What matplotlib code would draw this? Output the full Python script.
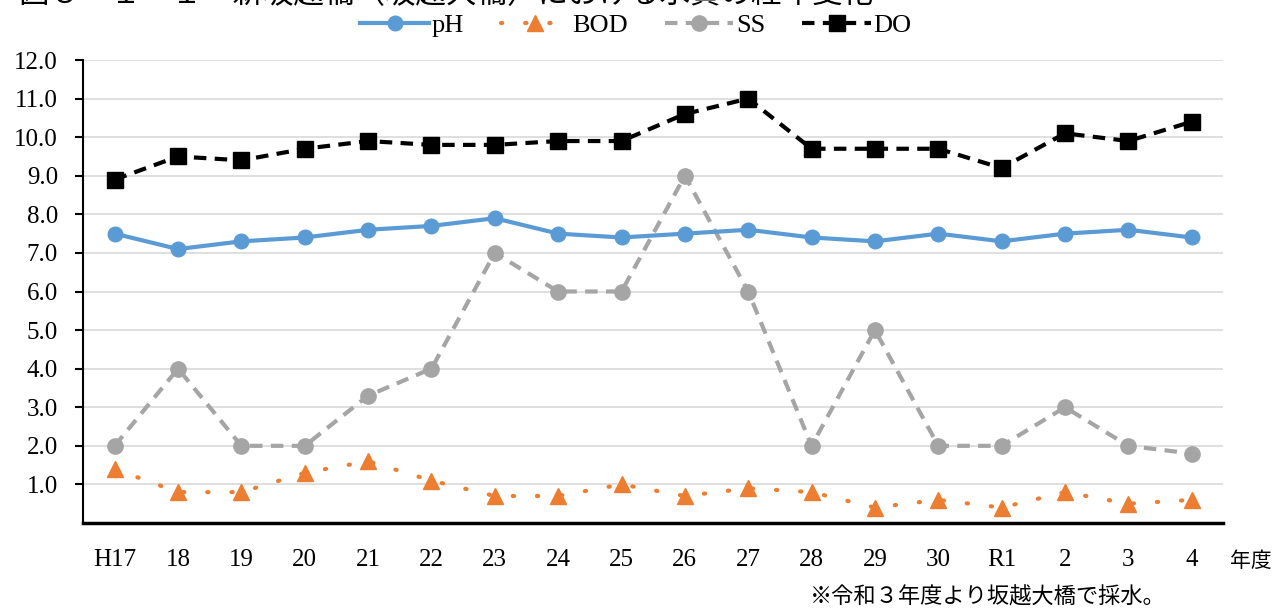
import numpy as np
import matplotlib
matplotlib.use("Agg")
import matplotlib.pyplot as plt

plt.rcParams['font.family'] = ['Liberation Serif', 'Noto Sans CJK JP']

# 年度と各項目の値
years = ["H17", "18", "19", "20", "21", "22", "23", "24", "25", "26",
         "27", "28", "29", "30", "R1", "2", "3", "4"]
ph = [7.5, 7.1, 7.3, 7.4, 7.6, 7.7, 7.9, 7.5, 7.4, 7.5,
      7.6, 7.4, 7.3, 7.5, 7.3, 7.5, 7.6, 7.4]
bod = [1.4, 0.8, 0.8, 1.3, 1.6, 1.1, 0.7, 0.7, 1.0, 0.7,
       0.9, 0.8, 0.4, 0.6, 0.4, 0.8, 0.5, 0.6]
ss = [2.0, 4.0, 2.0, 2.0, 3.3, 4.0, 7.0, 6.0, 6.0, 9.0,
      6.0, 2.0, 5.0, 2.0, 2.0, 3.0, 2.0, 1.8]
do = [8.9, 9.5, 9.4, 9.7, 9.9, 9.8, 9.8, 9.9, 9.9, 10.6,
      11.0, 9.7, 9.7, 9.7, 9.2, 10.1, 9.9, 10.4]

x = np.arange(len(years))

fig = plt.figure(figsize=(12.77, 6.08), dpi=100)
ax = fig.add_axes([0.0650, 0.1398, 0.8930, 0.7615])

ax.plot(x, ph, '-', color='#5B9BD5', linewidth=3, marker='o',
        markersize=10.5, label='pH', zorder=4)
ax.plot(x, bod, color='#ED7D31', linestyle=(0, (0.3, 5.5)), linewidth=3,
        dash_capstyle='round', marker='^', markersize=12, label='BOD', zorder=3)
ax.plot(x, ss, color='#A5A5A5', linestyle=(0, (3, 2)), linewidth=3,
        marker='o', markersize=11, label='SS', zorder=3)
ax.plot(x, do, color='black', linestyle=(0, (3, 2)), linewidth=3,
        marker='s', markersize=12, label='DO', zorder=5)

ax.set_xlim(-0.5, len(years) - 0.5)
ax.set_ylim(0, 12)
ax.set_yticks(np.arange(1, 13))
ax.set_yticklabels([f"{v:.1f}" for v in np.arange(1, 13)], fontsize=18)
ax.set_xticks(x)
ax.set_xticklabels(years, fontsize=18)
ax.tick_params(axis='x', length=0, pad=19)
ax.tick_params(axis='y', length=6, width=1.5, pad=12, direction='out')

ax.grid(axis='y', color='#D9D9D9', linewidth=1.2)
ax.set_axisbelow(True)
for s in ['top', 'right']:
    ax.spines[s].set_visible(False)
ax.spines['left'].set_linewidth(1.5)
ax.spines['bottom'].set_linewidth(2.5)

leg = ax.legend(loc='center', bbox_to_anchor=(0.485, 1.075), ncol=4,
                frameon=False, fontsize=19, handlelength=2.6,
                columnspacing=1.4, handletextpad=0.1)

fig.text(0.963, 0.075, "年度", fontsize=15, ha='left', va='center')
fig.text(0.634, 0.016, "※令和３年度より坂越大橋で採水。", fontsize=16,
         ha='left', va='center')
# タイトルは上端で切れている
fig.text(0.015, 1.008, "図８－１－１　新坂越橋（坂越大橋）における水質の経年変化",
         fontsize=22, ha='left', va='center')

fig.savefig("out.png", dpi=100)
